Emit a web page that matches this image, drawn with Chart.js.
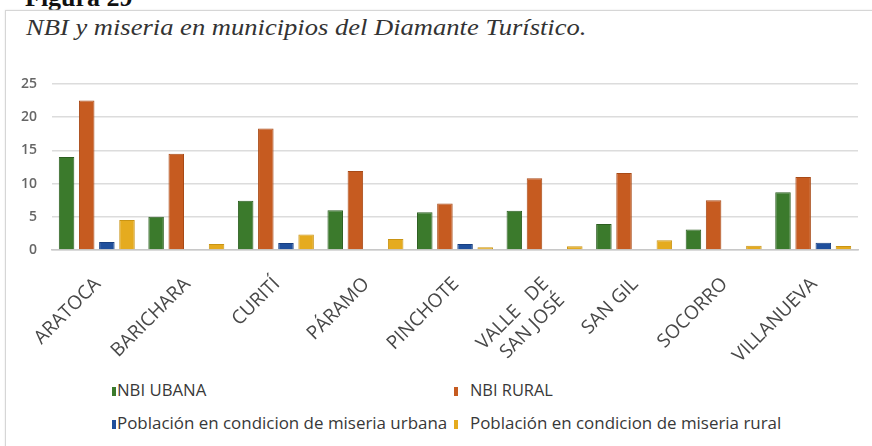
<!DOCTYPE html>
<html>
<head>
<meta charset="utf-8">
<script src="https://cdn.jsdelivr.net/npm/chart.js@4"></script>
<style>
  body { margin: 0; background: #fff; width: 872px; height: 446px; overflow: hidden; position: relative; }
  #fig { position: absolute; left: 25px; top: -17px; font: bold 26px "Liberation Serif", serif; color: #111; }
  #frame { position: absolute; left: 5px; top: 10px; width: 880px; height: 440px; border: 1px solid #d6d6d6; box-shadow: 0 0 2px #e6e6e6; }
  #title { position: absolute; left: 26px; top: 15px; font: italic 23px "Liberation Serif", serif; color: #333; transform-origin: left top; white-space: nowrap; }
  #wrap { position: absolute; left: 0; top: 60px; width: 872px; height: 300px; }
  .sw { position: absolute; width: 4px; height: 9px; }
  .lt { position: absolute; font: 16px "Open Sans", sans-serif; color: #383838; white-space: nowrap; transform-origin: left top; line-height: 16px; }
</style>
</head>
<body>
<div id="fig">Figura 29</div>
<div id="frame"></div>
<div id="title">NBI y miseria en municipios del Diamante Turístico.</div>
<div id="wrap"><canvas id="chart"></canvas></div>
<div id="legend"></div>
<script>
// municipios
const municipios = ['ARATOCA', 'BARICHARA', 'CURITÍ', 'PÁRAMO', 'PINCHOTE', ['VALLE   DE', 'SAN JOSÉ'], 'SAN GIL', 'SOCORRO', 'VILLANUEVA'];

const seriesNames = ['NBI UBANA', 'NBI RURAL', 'Población en condicion de miseria urbana', 'Población en condicion de miseria rural'];
const nbiUrbana   = [14.0, 5.0, 7.4, 6.0, 5.7, 5.9, 3.9, 3.1, 8.7];
const nbiRural    = [22.5, 14.5, 18.3, 11.9, 7.0, 10.8, 11.6, 7.5, 11.0];
const miseriaUrb  = [1.2, 0, 1.05, 0, 0.9, 0, 0, 0, 1.1];
const miseriaRur  = [4.5, 0.9, 2.35, 1.65, 0.4, 0.55, 1.45, 0.65, 0.6];
const yTicks = [0, 5, 10, 15, 20, 25];

const colors = ['#3b7a2c', '#c65b20', '#1f4f9c', '#e5ab1f'];
const borders = ['#2c5e20', '#a84a17', '#183f80', '#c99414'];

const allSeries = [nbiUrbana, nbiRural, miseriaUrb, miseriaRur];

const config = {
    type: 'bar',
    data: {
        labels: municipios,
        datasets: allSeries.map((d, i) => ({
            label: seriesNames[i],
            data: d,
            backgroundColor: colors[i],
            borderColor: borders[i],
            borderWidth: 1,
            categoryPercentage: 0.9,
            barPercentage: 0.77
        }))
    },
    options: {
        responsive: true,
        maintainAspectRatio: false,
        animation: false,
        layout: { padding: { top: 24, right: 14, bottom: 0, left: 0 } },
        plugins: { legend: { display: false }, tooltip: { enabled: false } },
        scales: {
            x: {
                grid: { display: false },
                border: { display: true, color: '#c8c8c8', width: 1.5 },
                ticks: {
                    color: '#484848',
                    font: { family: 'Open Sans, sans-serif', size: 19 },
                    maxRotation: 45, minRotation: 45,
                    labelOffset: 1,
                    padding: 15,
                    autoSkip: false
                },
                afterFit: s => { s.height = 110; }
            },
            y: {
                min: 0, max: 25,
                afterBuildTicks: s => { s.ticks = yTicks.map(v => ({ value: v })); },
                grid: { color: '#dcdcdc', drawTicks: false, lineWidth: 1.5 },
                border: { display: false },
                ticks: { color: '#666', font: { family: 'Open Sans, sans-serif', size: 14, weight: '600' }, padding: 15 },
                afterFit: s => { s.width = 52; }
            }
        }
    }
};

const myChart = new Chart(document.getElementById('chart'), config);

// legend laid out like the original (two columns): square x, text x, text width, row centre y
const legendPos = [[112, 117, 89, 391], [454, 470, 83, 391], [112, 117, 330, 424], [454, 470, 311, 424]];
const legend = document.getElementById('legend');
seriesNames.forEach((name, i) => {
    const [sx, tx, tw, cy] = legendPos[i];
    const sw = document.createElement('div');
    sw.className = 'sw';
    sw.style.left = sx + 'px';
    sw.style.top = (cy - 4) + 'px';
    sw.style.background = colors[i];
    legend.appendChild(sw);
    const lt = document.createElement('div');
    lt.className = 'lt';
    lt.textContent = name;
    lt.style.left = tx + 'px';
    lt.style.top = (cy - 9) + 'px';
    legend.appendChild(lt);
    lt.style.transform = 'scaleX(' + (tw / lt.offsetWidth) + ')';
});

// stretch title to the original width
const t = document.getElementById('title');
t.style.transform = 'scaleX(' + (561 / t.offsetWidth) + ')';
</script>
</body>
</html>
